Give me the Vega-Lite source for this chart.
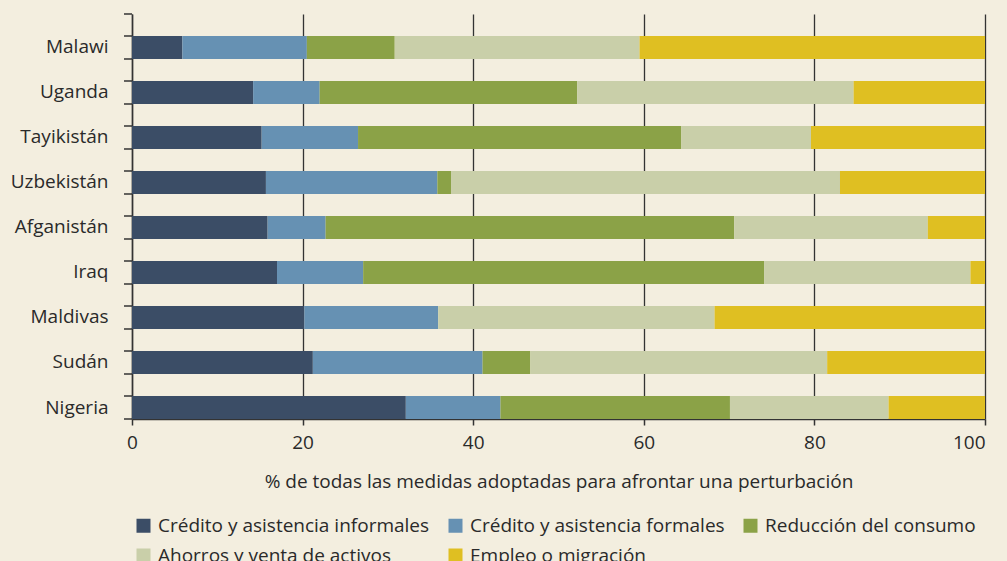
{
  "$schema": "https://vega.github.io/schema/vega-lite/v6.json",
  "autosize": {"type": "none"},
  "padding": {"left": 132, "top": 14, "right": 22, "bottom": 142},
  "width": 853,
  "height": 405,
  "background": "#F3EEDF",
  "config": {
    "view": {"stroke": null},
    "font": "Open Sans",
    "axis": {"labelFont": "Open Sans", "titleFont": "Open Sans", "labelColor": "#2a2a2a", "titleColor": "#2a2a2a", "labelFontSize": 19, "titleFontSize": 19, "titleFontWeight": "normal", "domainColor": "#333333", "tickColor": "#333333", "gridColor": "#333333", "domainWidth": 1.5, "tickWidth": 1.5, "gridWidth": 1.3, "gridOpacity": 1},
    "legend": {"labelFont": "Open Sans", "labelFontSize": 19, "labelColor": "#2a2a2a", "labelLimit": 0}
  },
  "data": {
    "values": [
      {"pais": "Malawi", "medida": "Crédito y asistencia informales", "orden": 1, "valor": 5.9},
      {"pais": "Malawi", "medida": "Crédito y asistencia formales", "orden": 2, "valor": 14.6},
      {"pais": "Malawi", "medida": "Reducción del consumo", "orden": 3, "valor": 10.3},
      {"pais": "Malawi", "medida": "Ahorros y venta de activos", "orden": 4, "valor": 28.7},
      {"pais": "Malawi", "medida": "Empleo o migración", "orden": 5, "valor": 40.5},
      {"pais": "Uganda", "medida": "Crédito y asistencia informales", "orden": 1, "valor": 14.2},
      {"pais": "Uganda", "medida": "Crédito y asistencia formales", "orden": 2, "valor": 7.8},
      {"pais": "Uganda", "medida": "Reducción del consumo", "orden": 3, "valor": 30.2},
      {"pais": "Uganda", "medida": "Ahorros y venta de activos", "orden": 4, "valor": 32.4},
      {"pais": "Uganda", "medida": "Empleo o migración", "orden": 5, "valor": 15.4},
      {"pais": "Tayikistán", "medida": "Crédito y asistencia informales", "orden": 1, "valor": 15.2},
      {"pais": "Tayikistán", "medida": "Crédito y asistencia formales", "orden": 2, "valor": 11.3},
      {"pais": "Tayikistán", "medida": "Reducción del consumo", "orden": 3, "valor": 37.9},
      {"pais": "Tayikistán", "medida": "Ahorros y venta de activos", "orden": 4, "valor": 15.2},
      {"pais": "Tayikistán", "medida": "Empleo o migración", "orden": 5, "valor": 20.4},
      {"pais": "Uzbekistán", "medida": "Crédito y asistencia informales", "orden": 1, "valor": 15.7},
      {"pais": "Uzbekistán", "medida": "Crédito y asistencia formales", "orden": 2, "valor": 20.1},
      {"pais": "Uzbekistán", "medida": "Reducción del consumo", "orden": 3, "valor": 1.6},
      {"pais": "Uzbekistán", "medida": "Ahorros y venta de activos", "orden": 4, "valor": 45.6},
      {"pais": "Uzbekistán", "medida": "Empleo o migración", "orden": 5, "valor": 17.0},
      {"pais": "Afganistán", "medida": "Crédito y asistencia informales", "orden": 1, "valor": 15.9},
      {"pais": "Afganistán", "medida": "Crédito y asistencia formales", "orden": 2, "valor": 6.8},
      {"pais": "Afganistán", "medida": "Reducción del consumo", "orden": 3, "valor": 47.9},
      {"pais": "Afganistán", "medida": "Ahorros y venta de activos", "orden": 4, "valor": 22.7},
      {"pais": "Afganistán", "medida": "Empleo o migración", "orden": 5, "valor": 6.7},
      {"pais": "Iraq", "medida": "Crédito y asistencia informales", "orden": 1, "valor": 17.0},
      {"pais": "Iraq", "medida": "Crédito y asistencia formales", "orden": 2, "valor": 10.1},
      {"pais": "Iraq", "medida": "Reducción del consumo", "orden": 3, "valor": 47.0},
      {"pais": "Iraq", "medida": "Ahorros y venta de activos", "orden": 4, "valor": 24.2},
      {"pais": "Iraq", "medida": "Empleo o migración", "orden": 5, "valor": 1.7},
      {"pais": "Maldivas", "medida": "Crédito y asistencia informales", "orden": 1, "valor": 20.2},
      {"pais": "Maldivas", "medida": "Crédito y asistencia formales", "orden": 2, "valor": 15.7},
      {"pais": "Maldivas", "medida": "Reducción del consumo", "orden": 3, "valor": 0},
      {"pais": "Maldivas", "medida": "Ahorros y venta de activos", "orden": 4, "valor": 32.4},
      {"pais": "Maldivas", "medida": "Empleo o migración", "orden": 5, "valor": 31.7},
      {"pais": "Sudán", "medida": "Crédito y asistencia informales", "orden": 1, "valor": 21.2},
      {"pais": "Sudán", "medida": "Crédito y asistencia formales", "orden": 2, "valor": 19.9},
      {"pais": "Sudán", "medida": "Reducción del consumo", "orden": 3, "valor": 5.6},
      {"pais": "Sudán", "medida": "Ahorros y venta de activos", "orden": 4, "valor": 34.8},
      {"pais": "Sudán", "medida": "Empleo o migración", "orden": 5, "valor": 18.5},
      {"pais": "Nigeria", "medida": "Crédito y asistencia informales", "orden": 1, "valor": 32.1},
      {"pais": "Nigeria", "medida": "Crédito y asistencia formales", "orden": 2, "valor": 11.1},
      {"pais": "Nigeria", "medida": "Reducción del consumo", "orden": 3, "valor": 26.9},
      {"pais": "Nigeria", "medida": "Ahorros y venta de activos", "orden": 4, "valor": 18.6},
      {"pais": "Nigeria", "medida": "Empleo o migración", "orden": 5, "valor": 11.3}
    ]
  },
  "encoding": {
    "y": {
      "field": "pais",
      "type": "nominal",
      "sort": null,
      "scale": {"paddingInner": 0.4889, "paddingOuter": 0.2444, "align": 1},
      "axis": {"title": null, "ticks": false, "tickSize": 0, "labelPadding": 24, "domain": true, "grid": false}
    }
  },
  "layer": [
    {
      "mark": {"type": "bar"},
      "encoding": {
        "x": {
          "field": "valor",
          "type": "quantitative",
          "stack": "zero",
          "scale": {"domain": [0, 100], "nice": false},
          "axis": {"values": [0, 20, 40, 60, 80, 100], "grid": true, "tickSize": 6, "labelPadding": 8, "labelFlush": false, "labelAlign": {"expr": "datum.value == 100 ? 'right' : 'center'"}, "labelDx": {"expr": "datum.value == 100 ? 3 : 0"}, "titlePadding": 20, "title": "% de todas las medidas adoptadas para afrontar una perturbación"}
        },
        "order": {"field": "orden", "type": "quantitative"},
        "color": {
          "field": "medida",
          "type": "nominal",
          "scale": {
            "domain": ["Crédito y asistencia informales", "Crédito y asistencia formales", "Reducción del consumo", "Ahorros y venta de activos", "Empleo o migración"],
            "range": ["#3B4D66", "#6691B3", "#8BA247", "#C9CFA9", "#DFBF22"]
          },
          "legend": {
            "title": null,
            "orient": "none",
            "legendX": 2,
            "legendY": 502,
            "direction": "horizontal",
            "columns": 3,
            "columnPadding": 16,
            "rowPadding": 10,
            "symbolType": "square",
            "symbolSize": 196,
            "symbolStrokeWidth": 0,
            "labelOffset": 5,
            "labelLimit": 0
          }
        }
      }
    },
    {
      "transform": [{"filter": "datum.orden == 1"}],
      "mark": {"type": "rule", "xOffset": -8, "x2Offset": 0, "color": "#333333", "strokeWidth": 1.5},
      "encoding": {
        "x": {"datum": 0, "type": "quantitative"},
        "x2": {"datum": 0},
        "y": {"field": "pais", "type": "nominal", "sort": null, "bandPosition": 0}
      }
    },
    {
      "transform": [{"filter": "datum.orden == 1"}],
      "mark": {"type": "rule", "xOffset": -8, "x2Offset": 0, "color": "#333333", "strokeWidth": 1.5},
      "encoding": {
        "x": {"datum": 0, "type": "quantitative"},
        "x2": {"datum": 0},
        "y": {"field": "pais", "type": "nominal", "sort": null, "bandPosition": 1}
      }
    },
    {
      "transform": [{"filter": "datum.orden == 1 && datum.pais == 'Malawi'"}],
      "mark": {"type": "rule", "xOffset": -8, "x2Offset": 0, "color": "#333333", "strokeWidth": 1.5},
      "encoding": {
        "x": {"datum": 0, "type": "quantitative"},
        "x2": {"datum": 0},
        "y": {"field": "pais", "type": "nominal", "sort": null, "bandPosition": -0.9565}
      }
    }
  ]
}
